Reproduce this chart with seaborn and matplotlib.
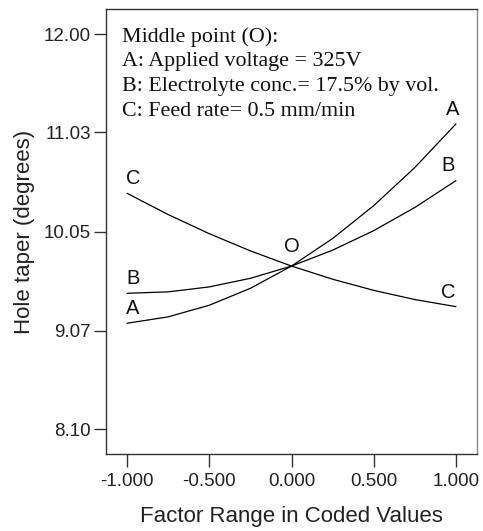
import numpy as np
import pandas as pd
import matplotlib
matplotlib.use("Agg")
import matplotlib.pyplot as plt
import seaborn as sns

# Data
coded = [-1.0, -0.75, -0.5, -0.25, 0.0, 0.25, 0.5, 0.75, 1.0]
taper_A = [9.145, 9.208, 9.323, 9.490, 9.710, 9.982, 10.307, 10.684, 11.114]
taper_B = [9.441, 9.455, 9.504, 9.589, 9.710, 9.867, 10.060, 10.289, 10.554]
taper_C = [10.429, 10.219, 10.030, 9.860, 9.710, 9.580, 9.470, 9.379, 9.309]
x_ticks = [-1.0, -0.5, 0.0, 0.5, 1.0]
x_ticklabels = ["-1.000", "-0.500", "0.000", "0.500", "1.000"]
y_ticks = [8.10, 9.07, 10.05, 11.03, 12.00]
y_ticklabels = ["8.10", "9.07", "10.05", "11.03", "12.00"]
info_lines = ["Middle point (O):",
              "A: Applied voltage = 325V",
              "B: Electrolyte conc.= 17.5% by vol.",
              "C: Feed rate= 0.5 mm/min"]

df = pd.DataFrame({
    "x": coded * 3,
    "y": taper_A + taper_B + taper_C,
    "factor": ["A"] * len(coded) + ["B"] * len(coded) + ["C"] * len(coded),
})

sns.set_theme(style="white")
plt.rcParams["font.family"] = ["Liberation Sans", "DejaVu Sans"]

fig = plt.figure(figsize=(4.83, 5.31), dpi=100)
ax = fig.add_axes([106 / 483, 77 / 531, 371 / 483, 445 / 531])

sns.lineplot(data=df, x="x", y="y", hue="factor",
             palette={"A": "black", "B": "black", "C": "black"},
             linewidth=0.9, legend=False, ax=ax, sort=True)

ax.set_xlim(-1.128, 1.128)
ax.set_ylim(7.853, 12.25)
ax.set_xticks(x_ticks)
ax.set_xticklabels(x_ticklabels)
ax.set_yticks(y_ticks)
ax.set_yticklabels(y_ticklabels)
ax.tick_params(axis="both", direction="out", length=9, width=1,
               color="#333333", labelsize=13.5, labelcolor="#222222",
               bottom=True, left=True)
ax.tick_params(axis="x", pad=4.5)
ax.tick_params(axis="y", pad=2)
for side, sp in ax.spines.items():
    sp.set_visible(True)
    sp.set_linewidth(1.0)
    sp.set_color("#333333" if side in ("left", "top", "bottom") else "#888888")

ax.set_xlabel("Factor Range in Coded Values", fontsize=16, color="#222222", labelpad=12)
ax.set_ylabel("Hole taper (degrees)", fontsize=16, color="#222222", labelpad=6)

# curve labels (placed at curve ends)
lab_kw = dict(fontsize=14.5, color="#111111", ha="center", va="bottom")
ax.text(coded[0] + 0.037, taper_A[0] + 0.05, "A", **lab_kw)
ax.text(coded[0] + 0.037, taper_B[0] + 0.05, "B", **lab_kw)
ax.text(coded[0] + 0.037, taper_C[0] + 0.05, "C", **lab_kw)
ax.text(coded[-1] - 0.02, taper_A[-1] + 0.05, "A", **lab_kw)
ax.text(coded[-1] - 0.045, taper_B[-1] + 0.06, "B", **lab_kw)
ax.text(coded[-1] - 0.045, taper_C[-1] + 0.05, "C", **lab_kw)
ax.text(coded[4], taper_A[4] + 0.1, "O", **lab_kw)

# info text block
for i, line in enumerate(info_lines):
    ax.text(122 / 483, (531 - 37 - 24.7 * i) / 531, line, transform=fig.transFigure,
            fontsize=15.8, family=["Liberation Serif", "DejaVu Serif"],
            color="#111111", ha="left", va="center")

fig.savefig("out.png", dpi=100)
